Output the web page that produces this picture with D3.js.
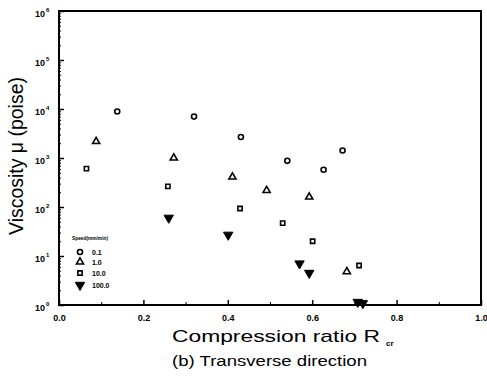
<!DOCTYPE html>
<html>
<head>
<meta charset="utf-8">
<script src="https://cdn.jsdelivr.net/npm/d3@7"></script>
<style>
  body { margin: 0; background: #fff; }
  svg { display: block; font-family: "Liberation Sans", Arial, sans-serif; }
</style>
</head>
<body>
<svg id="chart" width="487" height="376"></svg>
<script>
// Compression ratio vs. viscosity, one series per compression speed
const speedLabels = ["0.1", "1.0", "10.0", "100.0"];
const legendTitle = "Speed(mm/min)";

const ratio01   = [0.138, 0.320, 0.431, 0.541, 0.627, 0.672];
const visc01    = [8900, 7000, 2680, 875, 575, 1420];

const ratio1    = [0.088, 0.272, 0.411, 0.492, 0.593, 0.682];
const visc1     = [2170, 1000, 410, 218, 160, 4.8];

const ratio10   = [0.065, 0.258, 0.429, 0.530, 0.601, 0.711];
const visc10    = [605, 263, 93, 47, 20, 6.4];

const ratio100  = [0.260, 0.401, 0.570, 0.593, 0.708, 0.720];
const visc100   = [60, 27, 7.0, 4.5, 1.15, 1.08];

const xTicks = [0, 0.2, 0.4, 0.6, 0.8, 1.0];
const xTickLabels = ["0.0", "0.2", "0.4", "0.6", "0.8", "1.0"];
const yTicks = [1, 10, 100, 1000, 10000, 100000, 1000000];
const yTickExponents = ["0", "1", "2", "3", "4", "5", "6"];

const svg = d3.select("#chart");
const plotL = 59, plotR = 481, plotT = 11, plotB = 305;

const x = d3.scaleLinear().domain([0, 1]).range([plotL, plotR]);
const y = d3.scaleLog().domain([1, 1e6]).range([plotB, plotT]);

// frame
svg.append("rect")
  .attr("x", plotL).attr("y", plotT)
  .attr("width", plotR - plotL).attr("height", plotB - plotT)
  .attr("fill", "none").attr("stroke", "#000").attr("stroke-width", 2);

// x axis: major ticks inward with labels, minor ticks between
const xAxis = svg.append("g").attr("transform", `translate(0,${plotB})`)
  .call(d3.axisBottom(x).tickValues(xTicks).tickSizeInner(-5).tickSizeOuter(0)
    .tickFormat((d, i) => xTickLabels[i]));
xAxis.select(".domain").remove();
xAxis.selectAll(".tick line").attr("stroke-width", 1.5);
xAxis.selectAll(".tick text")
  .attr("y", 10).attr("dy", "0.71em")
  .attr("font-size", 9).attr("font-weight", "bold")
  .attr("font-family", "Liberation Sans, Arial, sans-serif");

svg.append("g").attr("transform", `translate(0,${plotB})`)
  .call(d3.axisBottom(x).tickValues([0.1, 0.3, 0.5, 0.7, 0.9]).tickSizeInner(-3).tickSizeOuter(0).tickFormat(""))
  .call(g => g.select(".domain").remove());

// y axis: decades with superscript exponents
const yAxis = svg.append("g").attr("transform", `translate(${plotL},0)`)
  .call(d3.axisLeft(y).tickValues(yTicks).tickSizeInner(-5).tickSizeOuter(0).tickFormat(""));
yAxis.select(".domain").remove();
yAxis.selectAll(".tick line").attr("stroke-width", 1.5);
yAxis.selectAll(".tick").each(function(d, i) {
  const t = d3.select(this).append("text")
    .attr("x", -14).attr("y", 5)
    .attr("text-anchor", "end")
    .attr("fill", "#000")
    .attr("font-size", 9).attr("font-weight", "bold")
    .attr("font-family", "Liberation Sans, Arial, sans-serif");
  t.append("tspan").text("10");
  t.append("tspan").attr("x", -13).attr("y", 0).attr("text-anchor", "start")
    .attr("font-size", 6).text(yTickExponents[i]);
});

const minorY = [];
for (let e = 0; e < 6; e++) for (let m = 2; m <= 9; m++) minorY.push(m * Math.pow(10, e));
svg.append("g").attr("transform", `translate(${plotL},0)`)
  .call(d3.axisLeft(y).tickValues(minorY).tickSizeInner(-2).tickSizeOuter(0).tickFormat(""))
  .call(g => g.select(".domain").remove());

// markers
const sym = {
  circle: d3.symbol().type(d3.symbolCircle).size(20),
  triangle: d3.symbol().type(d3.symbolTriangle).size(22),
  square: d3.symbol().type(d3.symbolSquare).size(18),
  down: d3.symbol().type(d3.symbolTriangle).size(38)
};

const series = [
  { xs: ratio01,  ys: visc01,  shape: "circle",   fill: "none" },
  { xs: ratio1,   ys: visc1,   shape: "triangle", fill: "none" },
  { xs: ratio10,  ys: visc10,  shape: "square",   fill: "none" },
  { xs: ratio100, ys: visc100, shape: "down",     fill: "#000" }
];

function drawMark(sel, s, px, py) {
  sel.append("path")
    .attr("d", sym[s.shape]())
    .attr("transform", `translate(${px},${py})` + (s.shape === "down" ? " rotate(180)" : ""))
    .attr("fill", s.fill)
    .attr("stroke", "#000")
    .attr("stroke-width", s.fill === "none" ? 1.6 : 1);
}

series.forEach(s => {
  const g = svg.append("g");
  s.xs.forEach((v, i) => drawMark(g, s, x(v), y(s.ys[i])));
});

// legend
const lg = svg.append("g");
lg.append("text").attr("x", 72).attr("y", 240)
  .attr("font-size", 6).attr("font-weight", "bold")
  .attr("textLength", 36).attr("lengthAdjust", "spacingAndGlyphs")
  .text(legendTitle);
const rowY = [252, 262, 273, 285];
series.forEach((s, i) => {
  drawMark(lg, s, 80, rowY[i]);
  lg.append("text").attr("x", 92).attr("y", rowY[i] + 2.5)
    .attr("font-size", 7).attr("font-weight", "bold")
    .text(speedLabels[i]);
});

// axis titles
svg.append("text")
  .attr("transform", "translate(22.5,156) rotate(-90)")
  .attr("text-anchor", "middle")
  .attr("font-size", 20)
  .attr("textLength", 158).attr("lengthAdjust", "spacingAndGlyphs")
  .text("Viscosity  μ (poise)");

const xt = svg.append("text").attr("y", 342).attr("font-size", 17);
xt.append("tspan").attr("x", 172)
  .attr("textLength", 208).attr("lengthAdjust", "spacingAndGlyphs")
  .text("Compression ratio R");
xt.append("tspan").attr("x", 386).attr("dy", 4).attr("font-size", 8).attr("font-weight", "bold").text("cr");

svg.append("text")
  .attr("x", 172).attr("y", 366)
  .attr("font-size", 14)
  .attr("textLength", 195).attr("lengthAdjust", "spacingAndGlyphs")
  .text("(b) Transverse direction");
</script>
</body>
</html>
